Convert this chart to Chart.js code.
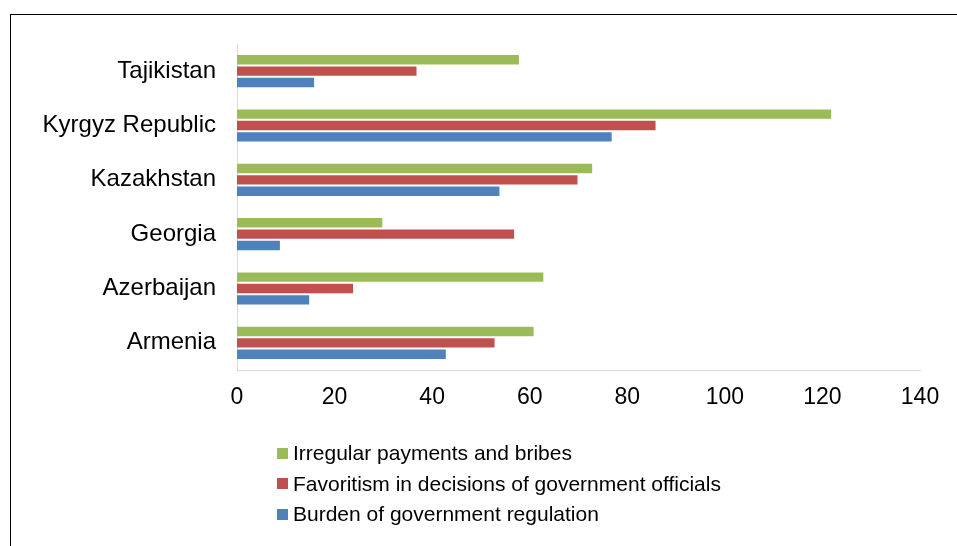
<!DOCTYPE html>
<html>
<head>
<meta charset="utf-8">
<script src="https://cdn.jsdelivr.net/npm/chart.js@4.4.1/dist/chart.umd.min.js"></script>
<style>
  html, body { margin: 0; padding: 0; background: #fff; }
  #wrap { position: relative; width: 957px; height: 546px; overflow: hidden; }
  #frame { position: absolute; left: 10px; top: 14px; right: -4px; bottom: -4px; border-top: 1px solid #000; border-left: 1px solid #000; }
  #chart { position: absolute; left: 0; top: 0; }
  #legend { position: absolute; left: 277px; top: 438px; margin: 0; padding: 0; list-style: none;
            font-family: 'Liberation Sans', Arial, sans-serif; font-size: 21px; color: #000; }
  #legend li { display: flex; align-items: center; height: 30.5px; white-space: nowrap; }
  #legend .box { width: 11px; height: 11px; margin-right: 5px; flex: none; }
</style>
</head>
<body>
<div id="wrap">
  <div id="frame"></div>
  <canvas id="chart" width="957" height="546"></canvas>
  <ul id="legend"></ul>
</div>
<script>
// countries, top to bottom as in the chart
const countries = ['Tajikistan', 'Kyrgyz Republic', 'Kazakhstan', 'Georgia', 'Azerbaijan', 'Armenia'];

const irregularPayments = [58, 122, 73, 30, 63, 61];
const favoritism = [37, 86, 70, 57, 24, 53];
const burdenRegulation = [16, 77, 54, 9, 15, 43];

const xTicks = [0, 20, 40, 60, 80, 100, 120, 140];

const FONT = "'Liberation Sans', Arial, sans-serif";
Chart.defaults.font.family = FONT;
Chart.defaults.color = '#000';

const series = [
  { label: 'Irregular payments and bribes', data: irregularPayments, color: '#9BBB59' },
  { label: 'Favoritism in decisions of government officials', data: favoritism, color: '#C0504D' },
  { label: 'Burden of government regulation', data: burdenRegulation, color: '#4F81BD' },
];

const chart = new Chart(document.getElementById('chart'), {
  type: 'bar',
  data: {
    labels: countries,
    datasets: series.map(s => ({
      label: s.label,
      data: s.data,
      backgroundColor: s.color,
      borderColor: 'rgba(255,255,255,0.15)',
      borderWidth: 1,
      barPercentage: 1,
      categoryPercentage: 0.63,
    })),
  },
  options: {
    indexAxis: 'y',
    responsive: false,
    animation: false,
    layout: { padding: { left: 0, top: 44, right: 37, bottom: 136 } },
    plugins: { legend: { display: false }, tooltip: { enabled: false } },
    scales: {
      x: {
        min: 0,
        max: 140,
        afterBuildTicks: scale => { scale.ticks = xTicks.map(v => ({ value: v })); },
        afterFit: scale => { scale.height = 40; },
        grid: { display: false, drawTicks: false },
        border: { display: true, color: '#d9d9d9', width: 1 },
        ticks: { padding: 14, font: { size: 23 }, color: '#000' },
      },
      y: {
        afterFit: scale => { scale.width = 237; },
        grid: { display: false, drawTicks: false },
        border: { display: true, color: '#d9d9d9', width: 1 },
        ticks: { padding: 21, font: { size: 24 }, color: '#000' },
      },
    },
  },
});

// vertical legend built from the chart's datasets
const legendEl = document.getElementById('legend');
legendEl.innerHTML = chart.data.datasets.map(ds =>
  `<li><span class="box" style="background:${ds.backgroundColor}"></span><span>${ds.label}</span></li>`
).join('');
</script>
</body>
</html>
